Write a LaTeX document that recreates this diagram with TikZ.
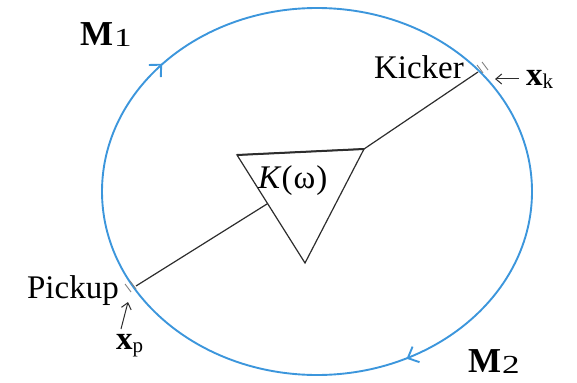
\documentclass[tikz,border=0pt]{standalone}
\usepackage{fontspec}
\setmainfont{Liberation Serif}
\usetikzlibrary{arrows.meta,decorations.markings,calc}
\definecolor{ringblue}{RGB}{60,150,220}
\definecolor{ink}{RGB}{45,45,45}
\tikzset{
  ring/.style={draw=ringblue, line width=1.9pt},
  link/.style={draw=ink, line width=1.2pt},
  ptr/.style={draw=ink, line width=1pt, -{Straight Barb[length=6pt,width=10pt]}},
  lbl/.style={inner sep=0pt, font=\fontsize{33}{33}\selectfont},
  marker/.style={draw=gray, line width=0.9pt},
}
\newcommand{\bigsub}[2]{{\fontsize{35}{35}\selectfont\textbf{#1}}\hspace{1pt}\raisebox{-1pt}{\fontsize{26}{26}\selectfont\scalebox{1.35}[1]{#2}}}
\newcommand{\vecsub}[2]{\textbf{#1}\raisebox{-3pt}{\fontsize{21}{21}\selectfont #2}}
\begin{document}
\begin{tikzpicture}[x=1pt,y=-1pt]
\useasboundingbox (0,0) rectangle (577,382);
% ring with flow arrows
\path[ring, postaction={decorate, decoration={markings,
   mark=at position 0.393 with {\arrow{Straight Barb[length=9pt,width=17pt,reversed]}},
   mark=at position 0.832 with {\arrow{Straight Barb[length=9pt,width=17pt,reversed]}}}}]
   (317,191.5) ellipse [x radius=215pt, y radius=183.5pt];
% triangle
\coordinate (t1) at (237,155);
\coordinate (t2) at (364,149);
\coordinate (t3) at (305,263);
\draw[link, line join=miter] (t1) -- (t2) -- (t3) -- cycle;
\draw[link, line width=2pt] (t1) -- (t2);
\coordinate (tl) at ($(t1)!0.45!(t3)$);
% pickup & kicker
\coordinate (pick) at (136,286);
\coordinate (kick) at (478,72);
\draw[link] (pick) -- (tl);
\draw[link] (t2) -- (kick);
% small markers
\draw[marker] (125,284) -- (131,292) (130,281) -- (136,289);
\draw[marker] (477,65) -- (483,73) (482,62) -- (488,70);
% labels
\node[lbl, anchor=base east] (kicker) at (464,79) {Kicker};
\node[lbl, anchor=base east] (pickup) at (119,298) {Pickup};
\node[lbl, anchor=base west] (K) at (258,188) {\textit{K}(\hspace{1pt}ω\hspace{1pt})};
\node[lbl, anchor=base west] (M1) at (80,46) {\bigsub{M}{1}};
\node[lbl, anchor=base west] (M2) at (468,372) {\bigsub{M}{2}};
\node[lbl, anchor=base west] (xk) at (526,86) {\vecsub{x}{k}};
\node[lbl, anchor=base west] (xp) at (116,349) {\vecsub{x}{p}};
% pointer arrows
\coordinate (xkt) at (495,79);
\coordinate (xks) at (519,79);
\coordinate (xpt) at (128,302);
\coordinate (xps) at (121,329);
\draw[ptr] (xks) -- (xkt);
\draw[ptr] (xps) -- (xpt);
\end{tikzpicture}
\end{document}
